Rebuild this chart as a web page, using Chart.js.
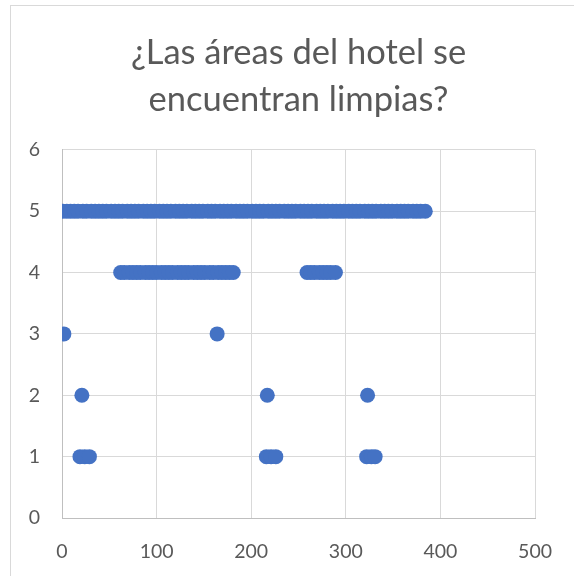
<!DOCTYPE html>
<html>
<head>
<meta charset="utf-8">
<script src="https://cdn.jsdelivr.net/npm/chart.js@4/dist/chart.umd.min.js"></script>
<style>
  body { margin: 0; background: #fff; }
  #frame { position: absolute; left: 10px; top: 5px; width: 700px; height: 700px;
           border-top: 1px solid #d9d9d9; border-left: 1px solid #d9d9d9; }
  #myChart { position: absolute; left: 0; top: 0; }
</style>
</head>
<body>
<div id="frame"></div>
<canvas id="myChart" width="574" height="576"></canvas>
<script>
// title
var titleLines = ['¿Las áreas del hotel se', 'encuentran limpias?'];

// x values of the answers, one list per answer
var answer5 = [1, 5, 9, 13, 17, 22, 26, 31, 35, 39, 43, 47, 52, 56, 60, 64, 69, 73, 77, 81,
  86, 90, 94, 98, 103, 107, 111, 115, 120, 124, 128, 132, 137, 141, 145, 149, 154, 158, 162,
  167, 171, 175, 179, 184, 188, 192, 196, 201, 205, 209, 213, 218, 222, 226, 230, 235, 239,
  243, 247, 252, 256, 260, 264, 269, 273, 277, 281, 286, 290, 294, 298, 303, 307, 311, 315,
  320, 324, 328, 332, 337, 341, 345, 349, 354, 358, 362, 366, 371, 375, 379, 384];
var answer4 = [62, 66, 71, 75, 79, 83, 88, 92, 96, 100, 105, 109, 113, 117, 122, 126, 130,
  134, 139, 143, 147, 151, 156, 160, 165, 169, 173, 177, 181,
  259, 263, 267, 272, 276, 280, 284, 289];
var answer3 = [2, 164];
var answer2 = [21, 217, 323];
var answer1 = [19, 24, 29, 216, 221, 226, 322, 327, 331];

// axis ticks
var xTicks = [0, 100, 200, 300, 400, 500];
var yTicks = [0, 1, 2, 3, 4, 5, 6];

// build points
var points = [];
[[answer5, 5], [answer4, 4], [answer3, 3], [answer2, 2], [answer1, 1]].forEach(function (pair) {
  pair[0].forEach(function (x) {
    points.push({x: x, y: pair[1]});
  });
});

var grey = '#595959';
var font = 'Lato, "Open Sans", sans-serif';

var ctx = document.getElementById('myChart').getContext('2d');
var myChart = new Chart(ctx, {
  type: 'scatter',
  data: {
    datasets: [{
      data: points,
      backgroundColor: '#4472C4',
      borderWidth: 0,
      pointRadius: 7.5,
      pointHoverRadius: 7.5
    }]
  },
  options: {
    responsive: false,
    animation: false,
    layout: { padding: { left: 23, right: 0, top: 0, bottom: 0 } },
    plugins: {
      legend: { display: false },
      tooltip: { enabled: false },
      title: {
        display: true,
        text: titleLines,
        color: grey,
        font: { family: font, size: 34.5, weight: 'normal', lineHeight: 1.36 },
        padding: { top: 29, bottom: 27 }
      }
    },
    scales: {
      x: {
        type: 'linear',
        min: xTicks[0],
        max: xTicks[xTicks.length - 1],
        afterBuildTicks: function (scale) {
          scale.ticks = xTicks.map(function (v) { return {value: v}; });
        },
        afterFit: function (scale) { scale.height = 58; },
        grid: { color: '#d9d9d9', drawTicks: false },
        border: { color: '#bfbfbf' },
        ticks: { color: grey, font: { family: font, size: 19.5 }, padding: 22, maxRotation: 0 }
      },
      y: {
        min: yTicks[0],
        max: yTicks[yTicks.length - 1],
        afterBuildTicks: function (scale) {
          scale.ticks = yTicks.map(function (v) { return {value: v}; });
        },
        afterFit: function (scale) { scale.width = 39; },
        grid: { color: '#d9d9d9', drawTicks: false },
        border: { color: '#bfbfbf' },
        ticks: { color: grey, font: { family: font, size: 19.5 }, padding: 22 }
      },
      // empty space on the right
      spacer: {
        type: 'linear',
        position: 'right',
        afterFit: function (scale) { scale.width = 35; },
        grid: { display: false },
        border: { display: false },
        ticks: { display: false }
      }
    }
  }
});
</script>
</body>
</html>
